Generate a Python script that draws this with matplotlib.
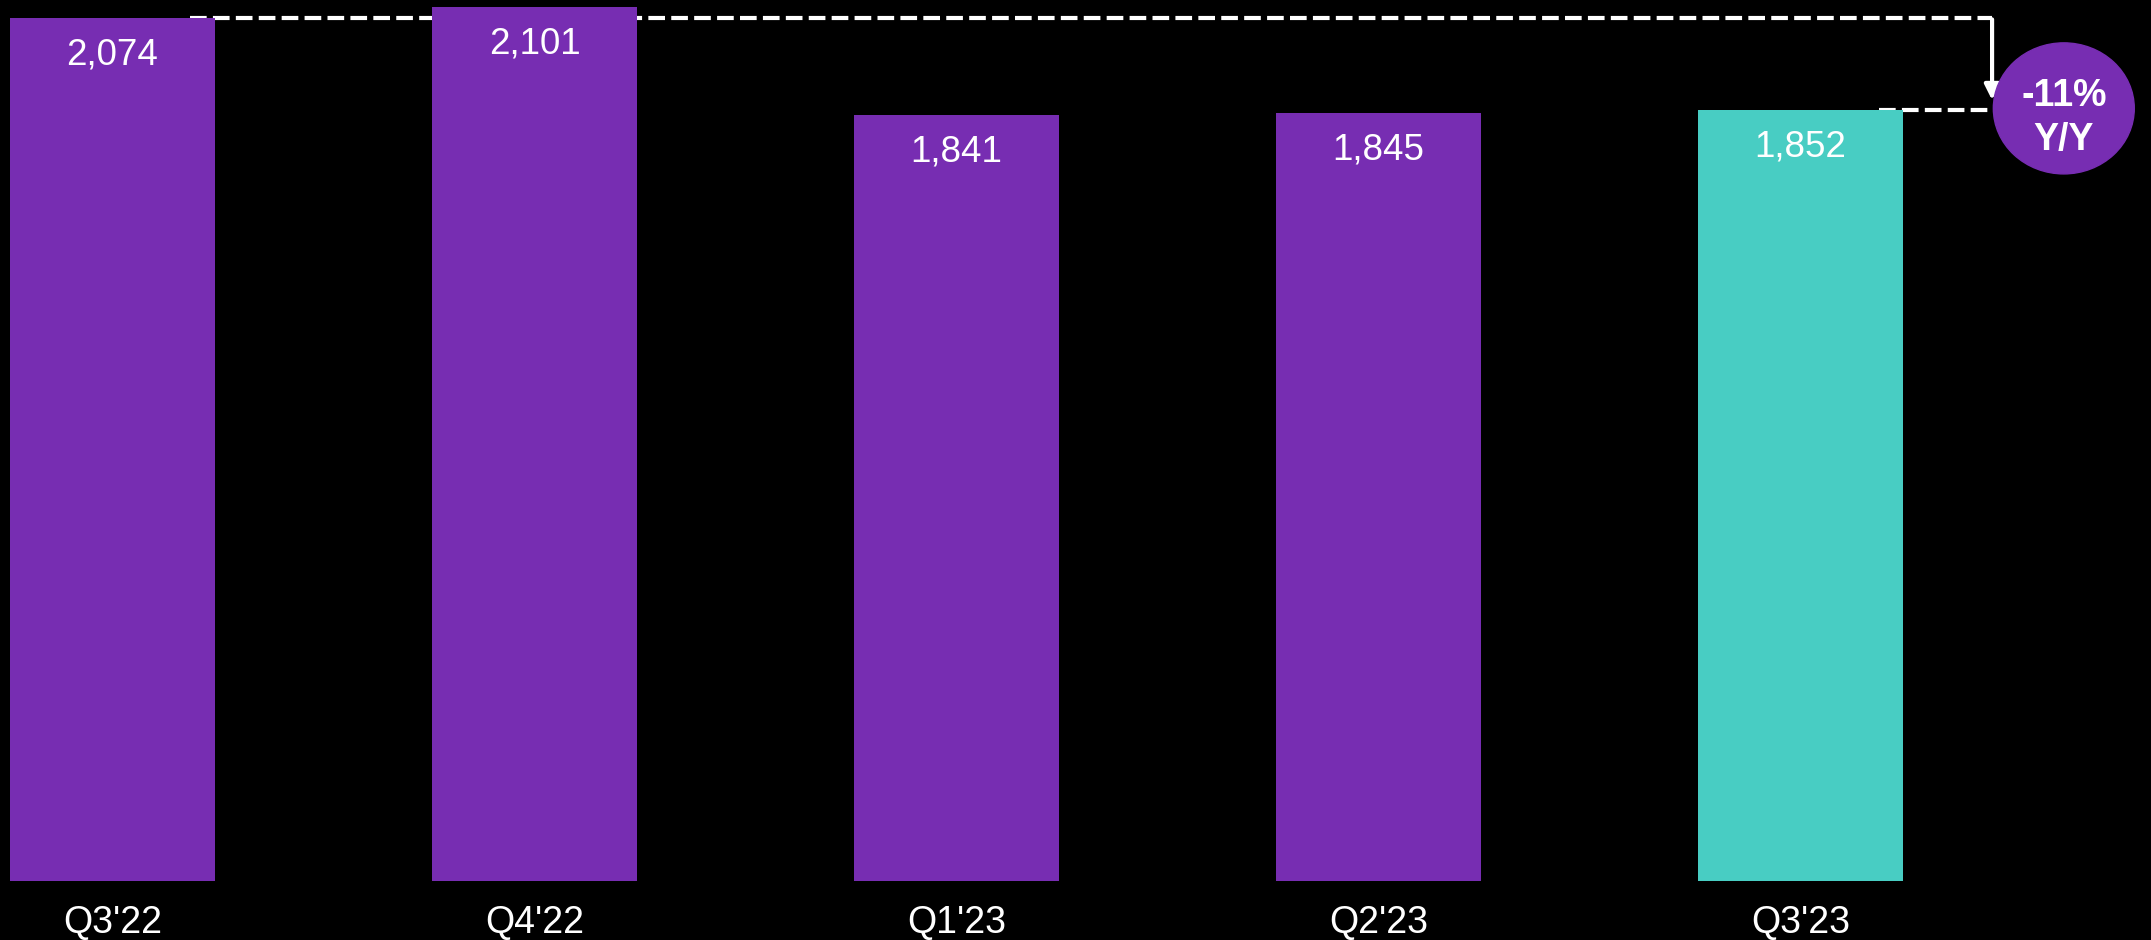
import matplotlib
matplotlib.use("Agg")
import matplotlib.pyplot as plt
from matplotlib.patches import Ellipse

categories = ["Q3'22", "Q4'22", "Q1'23", "Q2'23", "Q3'23"]
values = [2074, 2101, 1841, 1845, 1852]
value_labels = ["2,074", "2,101", "1,841", "1,845", "1,852"]
bar_colors = ["#772DB2", "#772DB2", "#772DB2", "#772DB2", "#48CDC3"]
change_label = "-11%\nY/Y"

plt.rcParams['font.family'] = ['Liberation Sans', 'DejaVu Sans']

W, H = 2151, 940
fig = plt.figure(figsize=(W / 100, H / 100), dpi=100, facecolor="black")
bottom_px = 59
ax = fig.add_axes([0, bottom_px / H, 1, 1 - bottom_px / H])
ax.set_facecolor("black")

x = list(range(len(categories)))
ax.bar(x, values, width=0.486, color=bar_colors, zorder=2)
ax.set_xlim(-0.2666, 4.8306)
ax.set_ylim(0, 2117.5)

for xi, v, lbl in zip(x, values, value_labels):
    ax.annotate(lbl, (xi, v), xytext=(0, -33.5), textcoords="offset points",
                ha="center", va="baseline", color="white", fontsize=26.5, zorder=3)

ax.set_xticks(x)
ax.set_xticklabels(categories, color="white", fontsize=27)
ax.tick_params(axis="x", length=0, pad=17)
ax.set_yticks([])
for s in ax.spines.values():
    s.set_visible(False)

# Y/Y annotation
dash = dict(color="white", lw=3.0, dashes=(4, 1.5), solid_capstyle="butt", dash_capstyle="butt")
ax.plot([0.184, 4.454], [values[0], values[0]], zorder=1, **dash)
ax.plot([4.186, 4.456], [values[4], values[4]], zorder=1, **dash)
ax.annotate("", xy=(4.454, 1877), xytext=(4.454, values[0] - 3),
            arrowprops=dict(arrowstyle="-|>,head_length=0.9,head_width=0.45",
                            color="white", lw=3.0, shrinkA=0, shrinkB=0), zorder=3)
ax.add_patch(Ellipse((4.624, 1857), 0.334, 315, color="#772DB2", zorder=4, clip_on=False))
ax.text(4.624, 1834, change_label, ha="center", va="center", color="white",
        fontsize=27, fontweight="bold", linespacing=1.3, zorder=5)

fig.savefig("out.png", dpi=100, facecolor="black")
